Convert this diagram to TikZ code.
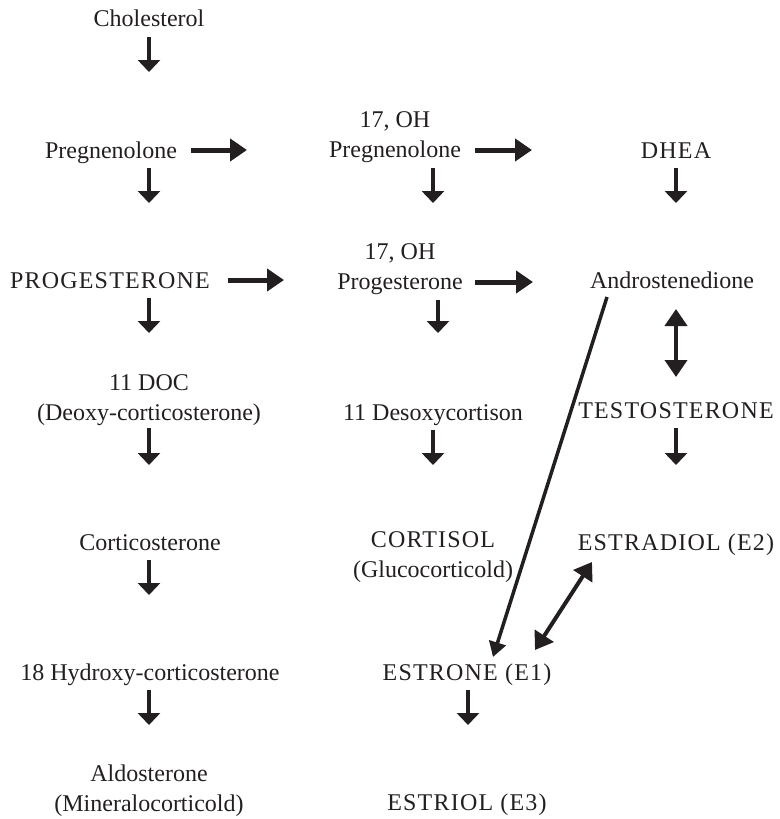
\documentclass[tikz,border=0pt]{standalone}
\usepackage{fontspec}
\setmainfont{Liberation Serif}
\newfontfamily\capsfont[LetterSpace=5]{Liberation Serif}
\usetikzlibrary{arrows.meta}
\definecolor{ink}{RGB}{35,31,32}
\tikzset{
  lbl/.style={font=\fontsize{24}{30}\selectfont, inner sep=0pt, align=center, text=ink},
  capslbl/.style={lbl, font=\fontsize{24}{30}\selectfont\capsfont},
  varr/.style={draw=ink, line width=4.5pt, -{Triangle[width=22pt,length=12pt]}, fill=ink},
  harr/.style={draw=ink, line width=5pt, -{Triangle[width=22pt,length=17pt]}, fill=ink},
  darr/.style={draw=ink, line width=4pt, {Triangle[width=22pt,length=17pt]}-{Triangle[width=22pt,length=17pt]}, fill=ink},
  diagarr/.style={draw=ink, line width=3.5pt, -{Triangle[width=17pt,length=15pt]}, fill=ink}
}
\begin{document}
\begin{tikzpicture}[x=1pt,y=-1pt]
\useasboundingbox (0,0) rectangle (779,819);
% left column
\node[lbl,anchor=base] (chol) at (149,27) {Cholesterol};
\node[lbl,anchor=base] (preg) at (111,158.5) {Pregnenolone};
\node[capslbl,anchor=base] (prog) at (110,288.5) {PROGESTERONE};
\node[lbl] (doc) at (149,400) {11 DOC\\(Deoxy-corticosterone)};
\node[lbl,anchor=base] (cort) at (150,550.5) {Corticosterone};
\node[lbl,anchor=base] (hyd) at (150,680.5) {18 Hydroxy-corticosterone};
\node[lbl] (aldo) at (149,790.5) {Aldosterone\\(Mineralocorticold)};
% middle column
\node[lbl] (ohpreg) at (395,137.5) {17, OH\\Pregnenolone};
\node[lbl] (ohprog) at (400,269.5) {17, OH\\Progesterone};
\node[lbl,anchor=base] (desoxy) at (433,420.5) {11 Desoxycortison};
\node[lbl] (cortisol) at (433,557.5) {{\capsfont CORTISOL}\\(Glucocorticold)};
\node[capslbl,anchor=base] (estrone) at (467,680.5) {ESTRONE (E1)};
\node[capslbl,anchor=base] (estriol) at (467,810.5) {ESTRIOL (E3)};
% right column
\node[capslbl,anchor=base] (dhea) at (676,158.5) {DHEA};
\node[lbl,anchor=base] (andro) at (672,288.5) {Androstenedione};
\node[capslbl,anchor=base] (testo) at (676,418.5) {TESTOSTERONE};
\node[capslbl,anchor=base] (estradiol) at (676,550.5) {ESTRADIOL (E2)};
% arrow end points
\coordinate (cholS) at (149,37);   \coordinate (pregN) at (149,72);
\coordinate (pregS) at (149,168);  \coordinate (progN) at (149,203);
\coordinate (progS) at (149,298);  \coordinate (docN) at (149,333);
\coordinate (docS) at (149,428);   \coordinate (cortN) at (149,465);
\coordinate (cortS) at (149,560);  \coordinate (hydN) at (149,595);
\coordinate (hydS) at (149,690);   \coordinate (aldoN) at (149,725);
\coordinate (ohpregS) at (433,168); \coordinate (ohprogN) at (433,203);
\coordinate (ohprogS) at (438,300); \coordinate (desoxyN) at (438,333);
\coordinate (desoxyS) at (433,430); \coordinate (cortisolN) at (433,465);
\coordinate (estroneS) at (468,690); \coordinate (estriolN) at (468,725);
\coordinate (dheaS) at (676,168);  \coordinate (androN) at (676,203);
\coordinate (testoS) at (676,428); \coordinate (estradiolN) at (676,465);
\coordinate (pregE) at (191,150);  \coordinate (ohpregW) at (247,150);
\coordinate (ohpregE) at (475,150); \coordinate (dheaW) at (532,150);
\coordinate (progE) at (228,280);  \coordinate (ohprogW) at (284,280);
\coordinate (ohprogE) at (475,282); \coordinate (androW) at (533,282);
\coordinate (androS) at (676,309); \coordinate (testoN) at (676,377);
\coordinate (androSW) at (607,297); \coordinate (estroneN) at (493,657);
\coordinate (estroneNE) at (535,650); \coordinate (estradiolSW) at (592,562);
% vertical arrows
\draw[varr] (cholS) -- (pregN);
\draw[varr] (pregS) -- (progN);
\draw[varr] (progS) -- (docN);
\draw[varr] (docS) -- (cortN);
\draw[varr] (cortS) -- (hydN);
\draw[varr] (hydS) -- (aldoN);
\draw[varr] (ohpregS) -- (ohprogN);
\draw[varr] (ohprogS) -- (desoxyN);
\draw[varr] (desoxyS) -- (cortisolN);
\draw[varr] (estroneS) -- (estriolN);
\draw[varr] (dheaS) -- (androN);
\draw[varr] (testoS) -- (estradiolN);
% horizontal arrows
\draw[harr] (pregE) -- (ohpregW);
\draw[harr] (ohpregE) -- (dheaW);
\draw[harr] (progE) -- (ohprogW);
\draw[harr] (ohprogE) -- (androW);
% double and diagonal arrows
\draw[darr] (androS) -- (testoN);
\draw[darr] (estroneNE) -- (estradiolSW);
\draw[diagarr] (androSW) -- (estroneN);
\end{tikzpicture}
\end{document}
